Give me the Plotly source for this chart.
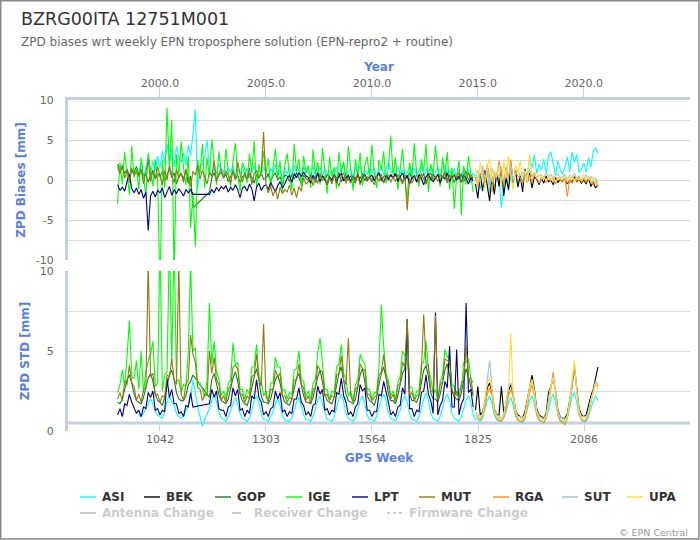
import plotly.graph_objects as go

# ---------------- data ----------------
# samples: 9 per year (Jan, Feb, Apr, May, Jun, Jul, Aug, Oct, Nov)
SAMPLES_PER_YEAR = 9
EARLY_START = 1998.0          # GOP, IGE, LPT, MUT
ASI_START = 1999.0            # ASI
LATER_START = 2014.0 + 8 / 9  # BEK, RGA, SUT, UPA

SERIES = ["ASI", "BEK", "GOP", "IGE", "LPT", "MUT", "RGA", "SUT", "UPA"]
HIDDEN_SERIES = ["Antenna Change", "Receiver Change", "Firmware Change"]

WEEK_TICKS = [1042, 1303, 1564, 1825, 2086]
YEAR_TICKS = [2000, 2005, 2010, 2015, 2020]
BIAS_TICKS = [-10, -7.5, -5, -2.5, 0, 2.5, 5, 7.5, 10]
BIAS_TICKTEXT = ["-10", "", "-5", "", "0", "", "5", "", "10"]
STD_TICKS = [0, 2.5, 5, 7.5, 10]
STD_TICKTEXT = ["0", "", "5", "", "10"]

N = None

LPT_BIAS = [
    -0.6, -1.3, -0.9, -1.4, -0.2, 0.7, -1.1, -1.6, -1.0,
    -1.8, -1.2, -2.3, -1.5, -6.3, -2.0, -1.4, -2.1, -1.3,
    -1.6, -1.0, -2.2, -1.4, -0.8, -1.9, -1.2, -1.7, -1.1,
    -1.5, -2.0, -1.2, -1.6, -1.2, -1.8, N, N, N,
    N, N, N, -1.8, -1.2, -1.6, -0.9, -1.4, -0.8,
    -1.1, -0.7, -1.5, -0.9, -1.3, -0.6, -1.2, -2.2, -1.0,
    -0.8, -1.4, -0.5, -1.1, -2.6, -0.9, -0.4, -1.3, -0.8,
    -0.6, -1.2, -0.3, -0.9, -1.5, -0.7, -0.2, -1.0, -0.5,
    0.2, 0.6, -0.3, 0.8, 0.3, 0.9, 0.4, 1.0, 0.5,
    0.3, -0.4, 0.6, 0.1, 0.9, -0.2, 0.5, 0.2, -0.6,
    0.4, 0.0, 0.7, -0.3, 0.5, 0.8, -0.1, 0.3, 0.6,
    -0.2, 0.5, 0.1, 0.8, -0.4, 0.3, 0.7, 0.0, 0.4,
    0.6, -0.1, 0.4, 0.9, 0.2, -0.3, 0.5, 0.1, 0.7,
    0.2, 0.8, -0.2, 0.4, 0.9, 0.0, 0.6, -0.5, 0.3,
    0.5, -0.3, 0.7, 0.2, -0.6, 0.4, 0.8, 0.1, -0.2,
    0.3, 0.7, -0.4, 0.5, 0.1, 0.9, -0.2, 0.4, 0.6,
    0.0, 0.5, -0.3, 0.6, 0.2, -0.5, 0.3, -0.1,
]
LPT_STD = [
    1.0, 1.4, 0.9, 1.7, 1.6, 2.3, 1.8, 1.5, 1.1,
    1.3, 0.9, 1.5, 1.4, 2.4, 2.1, 2.5, 1.3, 1.4,
    1.0, 1.3, 1.2, 3.3, 2.1, 2.6, 1.7, 1.7, 1.1,
    1.2, 0.9, 1.6, 1.5, 2.4, 1.5, N, N, N,
    N, N, N, 1.7, 2.6, 2.1, 2.5, 1.4, 1.3,
    1.3, 0.9, 1.5, 1.6, 2.7, 2.2, 2.6, 1.3, 1.4,
    0.9, 1.3, 1.1, 2.2, 2.0, 3.2, 2.1, 1.8, 1.0,
    1.2, 0.9, 1.4, 1.5, 2.5, 2.0, 2.4, 1.2, 1.3,
    0.9, 1.2, 1.1, 2.0, 2.0, 2.7, 1.8, 1.6, 1.0,
    1.2, 0.9, 1.6, 1.7, 2.8, 2.3, 2.6, 1.3, 1.4,
    1.0, 1.3, 1.2, 2.4, 2.3, 3.3, 2.2, 1.8, 1.0,
    1.2, 0.9, 1.5, 1.7, 2.9, 2.5, 2.7, 1.3, 1.3,
    0.9, 1.2, 1.2, 2.3, 2.2, 3.1, 2.5, 1.8, 1.0,
    1.2, 0.9, 1.5, 1.6, 2.7, 2.3, 7.0, 1.4, 1.4,
    0.9, 1.3, 1.2, 2.4, 2.5, 3.5, 2.3, 1.9, 1.1,
    7.4, 1.0, 1.6, 1.9, 3.1, 2.7, 5.3, 1.5, 1.5,
    5.1, 1.0, 1.7, 2.0, 8.0, 2.4, 2.6, 1.5,
]
MUT_BIAS = [
    1.6, 0.8, 1.9, 0.2, 1.2, -0.3, 1.5, 0.6, 1.0,
    0.4, 1.4, -0.5, 0.9, 2.6, -0.2, 1.1, 0.3, 1.7,
    0.5, -0.6, 1.2, 0.0, 1.8, 0.7, -0.4, 1.3, 0.2,
    0.9, -0.3, 1.4, 0.4, -0.8, 1.1, 0.6, 1.9, 0.1,
    1.2, 0.3, -0.5, 1.0, 0.5, 2.4, -0.2, 0.8, 1.4,
    0.2, 1.1, 0.6, -0.4, 1.3, 0.0, 2.3, 0.7, -0.3,
    0.9, 0.1, 1.5, -0.6, 0.8, 1.2, 0.3, 1.0, 6.0,
    -0.5, -1.6, -0.8, -2.0, -1.1, -2.4, -0.9, -1.7, -1.2,
    -1.5, -0.6, -1.9, -1.0, -2.2, -0.8, -1.4, 0.3, -0.5,
    -0.2, 0.5, -0.7, 0.3, -0.4, 0.8, -0.1, 0.4, -0.6,
    0.3, -0.5, 0.6, 0.0, -0.8, 0.4, 0.9, -0.3, 0.2,
    -0.4, 0.5, -0.1, 0.7, -0.6, 0.2, 0.6, -0.2, 0.4,
    0.1, -0.6, 0.5, -0.2, 0.8, -0.4, 0.3, 0.6, -0.3,
    0.4, -0.2, 0.7, 0.0, -0.5, 0.5, -3.8, 0.2, -0.4,
    0.3, 0.6, -0.3, 0.8, 0.1, -0.5, 0.4, 0.9, 0.0,
    0.5, -0.2, 0.7, 0.3, 1.0, -0.4, 0.6, 0.1, 0.8,
    0.2, 0.9, -0.3, 0.5, 1.1, 0.0, 0.6, 0.3,
]
MUT_STD = [
    2.0, 2.4, 1.9, 3.1, 2.9, 4.1, 3.0, 2.8, 1.9,
    2.3, 1.8, 2.6, 2.7, 10.5, 3.4, 3.6, 2.2, 2.3,
    1.8, 2.2, 2.1, 3.5, 3.4, 4.5, 3.2, 2.9, 10.5,
    2.3, 1.9, 2.9, 3.2, 6.0, 4.8, 4.3, 2.7, 2.6,
    1.9, 2.3, 2.2, 5.0, 3.6, 4.6, 3.2, 2.9, 1.9,
    2.2, 1.8, 2.6, 2.8, 4.0, 4.1, 3.9, 2.3, 2.3,
    1.8, 2.2, 2.0, 3.4, 3.5, 4.8, 3.3, 2.8, 6.7,
    2.2, 1.8, 2.6, 2.6, 3.8, 3.4, 3.6, 2.2, 2.2,
    1.8, 2.1, 2.0, 3.2, 3.2, 4.2, 2.9, 2.7, 1.9,
    2.2, 1.7, 2.6, 2.7, 4.1, 3.8, 3.7, 2.2, 2.3,
    1.9, 2.2, 2.1, 3.5, 3.6, 4.7, 3.2, 2.9, 5.8,
    2.2, 1.8, 2.6, 2.8, 4.2, 3.9, 3.8, 2.3, 2.3,
    1.9, 2.1, 2.2, 3.5, 3.7, 4.8, 3.4, 2.9, 2.0,
    2.3, 1.8, 2.8, 3.0, 4.3, 4.0, 7.0, 2.3, 2.4,
    1.9, 2.2, 2.3, 3.7, 7.3, 4.2, 4.1, 2.5, 2.5,
    7.2, 1.9, 2.9, 3.1, 4.5, 4.4, 4.3, 2.6, 2.2,
    2.5, 2.0, 3.0, 3.2, 5.4, 3.3, 3.3, 2.3,
]
IGE_BIAS = [
    -3.0, 2.2, -0.5, 3.5, 0.8, -1.8, 4.2, 0.3, 1.5,
    -1.2, 2.8, 0.4, -2.0, 3.4, 1.0, -0.8, 2.6, 0.2,
    -14.0, 2.5, -1.0, 9.0, 1.2, 7.5, -12.0, 3.2, 0.6,
    4.8, 1.5, -0.6, 3.0, -6.0, -1.5, -8.3, 2.5, 0.8,
    4.5, -1.0, 2.8, 0.4, 5.0, 1.8, -0.6, 3.6, 1.2,
    0.2, 3.9, 1.0, -0.8, 2.4, 4.6, 0.6, -1.4, 2.2,
    1.4, -0.4, 3.3, 0.9, 4.8, -1.0, 2.0, 0.5, 3.6,
    0.8, 2.7, -0.9, 1.5, 3.9, 0.2, 2.4, -1.6, 1.9,
    3.3, 0.6, -1.2, 4.5, 1.1, 2.6, -0.8, 3.0, 0.9,
    1.8, -1.0, 3.8, 0.7, 2.2, -0.6, 4.0, 1.3, -1.7,
    2.9, 0.4, 1.6, -1.1, 3.5, 0.9, 2.3, -0.5, 4.2,
    1.0, -1.3, 2.6, 0.5, 3.4, -0.7, 1.8, 2.9, 0.2,
    4.4, 0.8, -1.0, 2.5, 1.2, 3.6, -0.4, 1.5, 5.5,
    0.6, 2.8, -1.2, 1.7, 3.9, 0.3, -2.5, 2.2, 0.5,
    4.6, 0.9, -0.8, 2.6, 1.1, 4.5, -1.5, 2.0, 0.7,
    4.3, 1.2, -0.8, 2.8, 0.4, 3.5, -1.2, 1.6, -3.6,
    0.5, 2.4, -4.4, 1.8, -0.6, 3.0, 0.8, -1.5,
]
IGE_STD = [
    2.4, 2.9, 3.8, 2.8, 4.6, 6.9, 3.4, 3.3, 4.4,
    2.6, 5.0, 2.4, 3.7, 4.4, 4.8, 5.6, 2.8, 3.0,
    12.0, 2.5, 3.5, 3.7, 12.0, 4.2, 12.0, 3.1, 3.2,
    2.4, 2.9, 2.8, 4.8, 10.5, 5.0, 5.2, 2.9, 3.0,
    2.6, 2.1, 3.2, 8.0, 4.2, 5.6, 3.7, 3.3, 2.2,
    2.5, 2.0, 3.0, 3.2, 5.5, 4.1, 4.3, 2.6, 2.6,
    2.0, 2.6, 2.3, 4.0, 4.0, 5.4, 3.5, 3.2, 2.2,
    2.5, 1.9, 3.0, 3.0, 4.6, 4.0, 4.0, 2.5, 2.6,
    2.0, 2.4, 2.3, 3.8, 3.9, 5.0, 3.2, 3.1, 2.1,
    2.5, 2.0, 3.0, 3.2, 4.9, 5.8, 4.0, 2.6, 2.6,
    2.0, 2.5, 2.4, 4.0, 4.2, 5.4, 3.6, 3.2, 2.2,
    2.5, 1.9, 2.9, 3.2, 4.8, 4.4, 4.2, 2.6, 2.6,
    2.0, 2.4, 2.4, 4.0, 7.9, 5.3, 3.6, 3.2, 2.2,
    2.5, 2.0, 3.0, 3.4, 5.0, 4.7, 4.4, 2.8, 2.7,
    2.0, 2.5, 2.5, 4.2, 4.3, 5.6, 3.8, 3.3, 2.3,
    2.6, 2.0, 3.1, 3.5, 5.1, 4.6, 4.6, 2.9, 2.8,
    2.2, 2.6, 2.7, 4.3, 4.3, 4.5, 3.3, 3.0,
]
GOP_BIAS = [
    2.0, 1.2, 1.6, 0.8, 1.4, 0.5, 1.1, 0.9, 1.7,
    0.6, 1.3, 0.2, 0.9, -0.3, 0.7, 1.2, 0.1, 0.8,
    0.4, 1.0, -0.2, 0.6, 1.4, 0.3, 0.9, -0.5, 0.5,
    0.8, 0.2, 1.1, -0.4, 0.5, -3.5, N, N, N,
    N, N, N, -1.5, 0.3, 0.9, -0.1, 0.6, 1.0,
    0.3, 0.7, -0.2, 0.5, 1.0, 0.1, 0.6, -0.3, 0.4,
    0.6, 0.0, 0.8, 0.3, -0.4, 0.7, 0.2, 0.9, 0.1,
    0.2, 0.8, -0.1, 0.5, 0.9, 0.0, 0.4, -0.5, 0.6,
    0.5, -0.2, 0.7, 0.1, 0.9, 0.3, -0.4, 0.6, 0.2,
    0.0, 0.6, 0.3, -0.3, 0.8, 0.1, 0.5, -0.1, 0.7,
    0.4, -0.3, 0.6, 0.2, 0.9, -0.2, 0.3, 0.7, 0.0,
    0.5, 0.1, -0.4, 0.6, 0.2, 0.8, -0.1, 0.4, 0.3,
    -0.2, 0.5, 0.3, 0.9, -0.1, 0.4, 0.7, 0.0, 0.6,
    0.3, 0.8, 0.0, 0.5, -0.3, 0.6, 0.2, 0.9, 0.1,
    0.6, -0.1, 0.4, 0.2, 0.8, -0.4, 0.5, 0.1, 0.7,
    0.2, 0.7, -0.2, 0.4, 1.0, 0.0, 0.6, 0.3, -0.3,
    0.5, 0.1, 0.8, -0.2, 0.4, 0.9, 0.0, 0.3,
]
GOP_STD = [
    1.8, 1.7, 2.0, 2.6, 3.2, 3.5, 3.0, 2.3, 1.9,
    1.8, 1.7, 2.1, 2.7, 3.3, 3.6, 3.1, 2.3, 1.9,
    1.8, 1.6, 2.1, 2.9, 3.5, 3.8, 3.2, 2.4, 2.0,
    1.9, 1.9, 2.2, 2.9, 3.1, 3.5, N, N, N,
    N, N, N, 2.1, 3.2, 3.6, 3.0, 2.3, 1.9,
    1.8, 1.7, 2.0, 2.7, 3.3, 3.7, 3.1, 2.3, 1.9,
    1.7, 1.6, 2.0, 2.8, 3.4, 3.9, 3.2, 2.2, 1.8,
    1.8, 1.7, 2.0, 2.6, 3.2, 3.5, 3.0, 2.2, 1.8,
    1.7, 1.6, 2.0, 2.6, 3.3, 3.6, 2.9, 2.2, 1.8,
    1.8, 1.7, 2.1, 2.7, 3.4, 3.8, 3.1, 2.3, 1.9,
    1.8, 1.7, 2.1, 2.9, 3.6, 4.0, 3.2, 2.3, 1.9,
    1.8, 1.7, 2.0, 2.8, 3.5, 3.9, 3.1, 2.2, 1.9,
    1.8, 1.6, 2.1, 2.9, 3.6, 4.0, 3.3, 2.3, 1.9,
    1.9, 1.7, 2.2, 2.9, 3.6, 3.9, 6.5, 2.3, 1.9,
    1.9, 1.8, 2.2, 3.0, 3.8, 4.1, 3.4, 2.4, 2.0,
    2.0, 1.8, 2.3, 3.0, 3.8, 4.2, 3.5, 2.5, 2.1,
    2.0, 1.9, 2.4, 3.1, 3.9, 3.4, 2.8, 2.2,
]
ASI_BIAS = [
    1.0, 2.2, 0.4, 1.8, 2.9, 0.8, 2.4, 1.2, 3.0,
    1.5, 3.6, 2.0, 4.5, 2.4, 3.8, 1.6, 4.2, 2.8,
    2.2, 3.4, 1.8, 4.4, 3.0, 5.8, 8.8, -1.2, 1.8,
    2.0, 3.0, 5.0, 1.2, 0.4, 1.5, 0.8, 2.0, 1.1,
    1.2, 0.5, 1.6, 0.9, 1.9, 0.3, 1.4, 0.8, 1.7,
    0.6, 1.5, 0.2, 1.1, 1.8, 0.4, 1.3, 0.7, 1.6,
    1.0, 0.3, 1.4, 0.8, 2.0, 0.5, 1.2, 0.1, 1.5,
    0.7, 1.6, 0.4, 1.9, 0.9, 1.3, 0.2, 1.7, 0.8,
    1.4, 0.6, 1.8, 0.2, 1.1, 1.6, 0.5, 1.3, 0.9,
    0.5, 1.2, 0.8, 1.7, 0.3, 1.4, 2.0, 0.6, 1.1,
    1.3, 0.4, 1.6, 0.9, 1.9, 0.2, 1.2, 0.7, 1.5,
    0.8, 1.5, 0.3, 1.1, 1.8, 0.6, 1.4, 2.2, 0.9,
    1.2, 0.5, 1.7, 0.8, 1.3, 0.1, 1.0, 1.6, 0.4,
    1.5, 0.7, 1.1, 2.0, 0.6, 1.4, 0.9, 1.8, 0.3,
    0.9, 1.6, 0.4, 1.3, 1.9, 0.7, 1.2, 0.5, 1.4,
    0.6, 1.1, 0.2, 1.5, 0.8, 1.3, -0.4, 0.9, 0.3,
    0.3, -1.2, 0.8, -0.5, 1.2, -1.6, 0.4, -0.9, 0.6,
    0.2, -3.5, -0.6, 0.9, -1.4, 0.5, -0.3, 1.1, -0.8,
    0.4, -0.2, 1.0, 0.6, 2.8, 1.5, 3.2, 0.8, 2.0,
    1.2, 2.6, 0.9, 3.0, 3.5, 1.8, 0.6, 2.4, 1.3,
    0.7, 1.6, 2.9, 1.0, 3.5, 2.2, 3.2, 0.9, 1.4,
    2.1, 1.0, 2.8, 1.6, 3.6, 4.0, 3.3,
]
ASI_STD = [
    1.0, 0.9, 1.1, 1.4, 1.8, 2.0, 1.7, 1.2, 1.0,
    0.9, 0.8, 1.2, 1.9, 2.2, 1.8, 1.6, 1.1, 0.9,
    0.8, 0.9, 1.2, 1.6, 2.1, 3.2, 2.4, 1.5, 0.9,
    0.3, 0.7, 1.0, 1.4, 1.9, 2.3, 1.8, 1.2, 0.8,
    0.7, 0.6, 0.9, 1.3, 1.8, 2.1, 1.7, 1.1, 0.8,
    0.7, 0.6, 0.8, 1.3, 1.9, 2.2, 1.8, 1.1, 0.7,
    0.7, 0.6, 0.9, 1.2, 1.7, 2.0, 1.6, 1.0, 0.7,
    0.6, 0.6, 0.8, 1.3, 1.8, 2.1, 1.6, 1.0, 0.7,
    0.7, 0.6, 0.9, 1.4, 1.9, 2.2, 1.7, 1.1, 0.7,
    0.7, 0.6, 0.9, 1.4, 2.0, 2.3, 1.8, 1.1, 0.8,
    0.7, 0.6, 0.8, 1.3, 1.9, 2.2, 1.7, 1.0, 0.7,
    0.7, 0.6, 0.9, 1.4, 2.0, 2.3, 1.9, 1.1, 0.8,
    0.7, 0.6, 0.9, 1.3, 1.9, 2.2, 1.8, 1.1, 0.7,
    0.7, 0.6, 0.9, 1.4, 2.0, 2.4, 1.9, 1.1, 0.8,
    0.7, 0.6, 0.9, 1.4, 2.0, 2.3, 1.9, 1.1, 0.8,
    0.7, 0.6, 0.9, 1.4, 1.9, 2.2, 1.8, 1.0, 0.7,
    0.7, 0.6, 0.8, 1.3, 1.9, 2.2, 1.7, 1.0, 0.7,
    0.6, 0.6, 0.8, 1.2, 1.8, 2.1, 1.6, 0.9, 0.7,
    0.6, 0.5, 0.8, 1.3, 1.9, 2.2, 1.7, 1.0, 0.7,
    0.6, 0.5, 0.8, 1.3, 2.0, 2.3, 1.8, 1.0, 0.7,
    0.6, 0.5, 0.8, 1.4, 2.1, 2.4, 1.8, 1.0, 0.7,
    0.6, 0.6, 0.9, 1.4, 1.9, 2.2, 1.9,
]
BEK_BIAS = [
    -0.5,
    -2.3, 0.8, -1.4, 1.2, -0.6, -2.6, 0.4, -1.8, 1.0,
    -0.8, 1.5, -2.0, 0.3, -1.2, 2.0, -0.4, 1.2, -0.9,
    0.6, -1.5, 1.4, -0.3, 0.9, -1.0, 0.4, 0.1, -0.6,
    0.2, -0.4, 0.5, -0.2, 0.0, -0.6, 0.3, -0.3, 0.1,
    -0.2, 0.3, -0.5, 0.0, -0.3, 0.4, -0.2, 0.1, -0.4,
    0.0, -0.5, 0.3, -0.8, -0.3, -1.0, -0.6,
]
RGA_BIAS = [
    0.3,
    -0.8, 0.5, 1.2, -0.3, 2.0, 0.4, -1.5, 1.0, 0.2,
    2.4, 0.8, -0.4, 1.6, 0.2, 2.6, -0.2, 1.0, 0.5,
    0.3, -0.5, 1.1, 0.0, 0.6, -0.3, 0.8, 0.2, -0.4,
    0.1, 0.5, -0.3, 0.4, -0.1, 0.3, -0.5, 0.2, 0.0,
    -0.2, 0.3, -2.1, 0.1, -0.4, 0.2, -0.1, 0.4, -0.3,
    0.2, -0.3, 0.4, -0.1, -0.6, -0.2, -0.8,
]
SUT_BIAS = [
    0.5,
    1.2, -0.4, 1.8, 0.3, 0.9, -0.8, 1.5, 0.2, 1.0,
    0.4, 1.6, -0.2, 1.1, 0.6, 1.9, 0.0, 0.8, 1.3,
    0.5, 1.0, 0.2, 0.8, 1.2, 0.4, 0.9, 0.3, 0.7,
    0.6, 0.2, 0.9, 0.4, 0.7, 0.1, 0.5, 0.8, 0.3,
    0.4, 0.7, 0.1, 0.6, 0.3, 0.8, 0.2, 0.5, 0.0,
    0.3, 0.6, 0.1, 0.4, -0.2, 0.2, -0.4,
]
UPA_BIAS = [
    1.5,
    -0.6, 2.2, 0.5, -1.0, 1.8, 2.6, -0.3, 1.2, 0.4,
    1.6, -0.8, 2.3, 0.2, 3.0, 0.6, -1.2, 1.9, 0.8,
    2.4, 0.3, 1.2, -0.4, 3.2, 0.6, 1.0, 0.2, 0.7,
    0.2, 0.5, -0.1, 0.4, 0.0, 0.6, -0.2, 0.3, 0.1,
    0.1, 0.4, -0.3, 0.2, 0.5, -0.1, 0.3, 0.0, 0.4,
    0.6, 0.1, 0.3, -0.2, 0.4, -0.5, -0.3,
]
BEK_STD = [
    1.3,
    2.8, 1.0, 1.2, 1.8, 2.7, 3.0, 2.4, 1.4, 1.0,
    1.0, 2.8, 1.1, 1.7, 2.5, 2.9, 2.3, 1.3, 1.0,
    0.9, 0.8, 1.2, 2.0, 2.9, 3.5, 2.6, 1.4, 1.0,
    0.9, 0.8, 1.1, 2.4, 2.8, 3.3, 2.5, 1.3, 0.9,
    0.8, 0.8, 1.1, 1.9, 2.8, 4.0, 2.7, 1.4, 1.0,
    0.9, 1.0, 1.6, 2.2, 2.6, 3.4, 4.0,
]
RGA_STD = [
    1.0,
    0.8, 0.7, 0.9, 1.5, 2.3, 2.7, 2.2, 1.1, 0.8,
    0.7, 0.6, 0.9, 1.4, 2.2, 2.6, 2.1, 1.0, 0.7,
    0.6, 0.6, 0.8, 1.5, 2.4, 2.9, 2.2, 1.1, 0.7,
    0.6, 0.5, 0.8, 1.6, 2.6, 3.7, 2.4, 1.0, 0.6,
    0.5, 0.4, 0.8, 1.6, 2.8, 4.2, 2.5, 1.1, 0.7,
    0.6, 0.7, 1.0, 1.8, 2.4, 3.0, 2.8,
]
SUT_STD = [
    1.2,
    1.0, 0.9, 1.1, 2.0, 3.3, 4.4, 2.8, 1.4, 1.0,
    0.9, 0.8, 1.1, 1.8, 2.8, 3.0, 2.4, 1.3, 0.9,
    0.9, 0.8, 1.0, 1.9, 2.8, 3.2, 2.5, 1.3, 0.9,
    0.8, 0.8, 1.0, 1.9, 2.9, 3.4, 2.5, 1.2, 0.9,
    0.8, 0.7, 1.0, 1.9, 3.2, 4.3, 2.6, 1.3, 0.9,
    0.9, 0.9, 1.2, 2.0, 2.5, 3.1, 2.9,
]
UPA_STD = [
    1.1,
    0.9, 0.8, 1.0, 1.8, 3.0, 3.3, 2.5, 1.2, 0.9,
    0.8, 0.7, 1.0, 1.7, 2.6, 6.1, 2.3, 1.2, 0.8,
    0.8, 0.7, 1.0, 1.8, 2.7, 3.2, 2.4, 1.2, 0.9,
    0.7, 0.7, 0.9, 1.8, 2.8, 3.3, 2.4, 1.1, 0.8,
    0.7, 0.6, 0.9, 1.8, 3.0, 4.4, 2.5, 1.2, 0.8,
    0.8, 0.8, 1.1, 1.9, 2.4, 3.0, 2.6,
]

# ---------------- styling ----------------
COLORS = {
    "ASI": "#00ffff", "BEK": "#000000", "GOP": "#1e7b1e", "IGE": "#00ff00",
    "LPT": "#000080", "MUT": "#8c7c10", "RGA": "#ff8c1a", "SUT": "#a3c0da",
    "UPA": "#ffdd33",
}
FONT = "DejaVu Sans"
BLUE = "#5b7fdc"
AXIS_LINE = "#c3d1e2"
GRID = "#d9d9d9"

W, H = 700, 540
ML, MR, MT, MB = 68, 10, 100, 109
PW, PH = W - ML - MR, H - MT - MB


def px(x):
    return (x - ML) / PW


def py(y):
    return (H - MB - y) / PH


def to_years(start, n):
    return [start + i / SAMPLES_PER_YEAR for i in range(n)]


def to_weeks(start, n):
    # decimal year -> GPS week (week 1042 starts year 2000.0)
    return [1042 + (t - 2000.0) * 52.1775 for t in to_years(start, n)]


DATA = {
    "ASI": (ASI_START, ASI_BIAS, ASI_STD),
    "BEK": (LATER_START, BEK_BIAS, BEK_STD),
    "GOP": (EARLY_START, GOP_BIAS, GOP_STD),
    "IGE": (EARLY_START, IGE_BIAS, IGE_STD),
    "LPT": (EARLY_START, LPT_BIAS, LPT_STD),
    "MUT": (EARLY_START, MUT_BIAS, MUT_STD),
    "RGA": (LATER_START, RGA_BIAS, RGA_STD),
    "SUT": (LATER_START, SUT_BIAS, SUT_STD),
    "UPA": (LATER_START, UPA_BIAS, UPA_STD),
}

fig = go.Figure()
# upper panel: biases against the Year axis (top)
for name in SERIES:
    start, bias, std = DATA[name]
    fig.add_trace(go.Scatter(
        x=to_years(start, len(bias)), y=bias, xaxis="x2", yaxis="y",
        mode="lines", line=dict(color=COLORS[name], width=1.1),
        connectgaps=True, name=name, showlegend=False, hoverinfo="skip"))
# lower panel: STD against GPS week (bottom)
for name in SERIES:
    start, bias, std = DATA[name]
    fig.add_trace(go.Scatter(
        x=to_weeks(start, len(std)), y=std, xaxis="x", yaxis="y2",
        mode="lines", line=dict(color=COLORS[name], width=1.1),
        connectgaps=True, name=name, showlegend=False, hoverinfo="skip"))

week_lo, week_hi = 815.5, 2347.0
year_lo = 2000.0 + (week_lo - 1042) / 52.1775
year_hi = 2000.0 + (week_hi - 1042) / 52.1775

tickfont = dict(family=FONT, size=11, color="#666666")
titlefont = dict(family=FONT, size=12, color=BLUE)

fig.update_layout(
    width=W, height=H,
    margin=dict(l=ML, r=MR, t=MT, b=MB),
    paper_bgcolor="white", plot_bgcolor="white",
    font=dict(family=FONT),
    showlegend=False,
    xaxis=dict(
        domain=[0, 1], range=[week_lo, week_hi], anchor="y2",
        tickvals=WEEK_TICKS, ticks="inside", ticklen=8, tickwidth=1,
        tickcolor=AXIS_LINE, showline=False, showgrid=False, zeroline=False,
        tickfont=tickfont,
        title=dict(text="<b>GPS Week</b>", font=titlefont, standoff=8),
    ),
    xaxis2=dict(
        domain=[0, 1], side="top", anchor="y", range=[year_lo, year_hi],
        tickvals=YEAR_TICKS, tickformat=".1f", ticks="outside", ticklen=10,
        ticklabelstandoff=-4,
        tickwidth=1, tickcolor=AXIS_LINE, showline=True, linecolor=AXIS_LINE,
        linewidth=3, showgrid=False, zeroline=False, tickfont=tickfont,
        title=dict(text="<b>Year</b>", font=titlefont, standoff=3),
    ),
    yaxis=dict(
        domain=[py(260), 1], range=[-10, 10], anchor="x2",
        tickvals=BIAS_TICKS, ticktext=BIAS_TICKTEXT, ticks="",
        ticklabelstandoff=9,
        showgrid=True, gridcolor=GRID, gridwidth=1, zeroline=False,
        showline=True, linecolor=AXIS_LINE, linewidth=3, tickfont=tickfont,
        title=dict(text="<b>ZPD Biases [mm]</b>", font=titlefont, standoff=8),
    ),
    yaxis2=dict(
        domain=[0, py(271)], range=[0, 10], anchor="x",
        tickvals=STD_TICKS, ticktext=STD_TICKTEXT, ticks="",
        ticklabelstandoff=9,
        showgrid=True, gridcolor=GRID, gridwidth=1, zeroline=False,
        showline=True, linecolor=AXIS_LINE, linewidth=3, tickfont=tickfont,
        title=dict(text="<b>ZPD STD [mm]</b>", font=titlefont, standoff=8),
    ),
)

shapes = []
annotations = []

# bottom axis line of the STD panel
shapes.append(dict(type="line", xref="paper", yref="paper", x0=0, x1=1,
                   y0=py(423), y1=py(423), line=dict(color=AXIS_LINE, width=3),
                   layer="below"))
# chart border
shapes.append(dict(type="rect", xref="paper", yref="paper",
                   x0=px(0.75), x1=px(699), y0=py(539), y1=py(0.75),
                   line=dict(color="#888888", width=1.5), layer="above"))

# titles
annotations.append(dict(text="BZRG00ITA 12751M001", xref="paper", yref="paper",
                        x=px(19), y=py(19), xanchor="left", yanchor="middle",
                        showarrow=False, font=dict(family=FONT, size=17.5, color="#333333")))
annotations.append(dict(text="ZPD biases wrt weekly EPN troposphere solution (EPN-repro2 + routine)",
                        xref="paper", yref="paper", x=px(19), y=py(42),
                        xanchor="left", yanchor="middle", showarrow=False,
                        font=dict(family=FONT, size=12, color="#666666")))

# legend (manual, Highcharts style)
row1_sym = [80, 144, 215, 286, 352, 419, 493, 562, 627]
row1_y = 497
for name, x0 in zip(SERIES, row1_sym):
    shapes.append(dict(type="line", xref="paper", yref="paper",
                       x0=px(x0), x1=px(x0 + 16), y0=py(row1_y), y1=py(row1_y),
                       line=dict(color=COLORS[name], width=2), opacity=0.7))
    annotations.append(dict(text="<b>" + name + "</b>", xref="paper", yref="paper",
                            x=px(x0 + 20), y=py(row1_y), xanchor="left", yanchor="middle",
                            showarrow=False, font=dict(family=FONT, size=12, color="#333333")))
row2_sym = [80, 232, 387]
row2_dash = ["solid", "dash", "dot"]
row2_y = 513
for name, x0, dash in zip(HIDDEN_SERIES, row2_sym, row2_dash):
    shapes.append(dict(type="line", xref="paper", yref="paper",
                       x0=px(x0), x1=px(x0 + 16), y0=py(row2_y), y1=py(row2_y),
                       line=dict(color="#cccccc", width=2, dash=dash)))
    annotations.append(dict(text="<b>" + name + "</b>", xref="paper", yref="paper",
                            x=px(x0 + 20), y=py(row2_y), xanchor="left", yanchor="middle",
                            showarrow=False, font=dict(family=FONT, size=12, color="#cccccc")))

annotations.append(dict(text="© EPN Central", xref="paper", yref="paper",
                        x=px(690), y=py(532), xanchor="right", yanchor="middle",
                        showarrow=False, font=dict(family=FONT, size=9.5, color="#999999")))

fig.update_layout(shapes=shapes, annotations=annotations)

fig.write_html(
    "out.html", config={"displayModeBar": False},
    post_script="document.body.style.margin='0';document.body.style.padding='0';"
                "document.documentElement.style.overflow='hidden';",
)
